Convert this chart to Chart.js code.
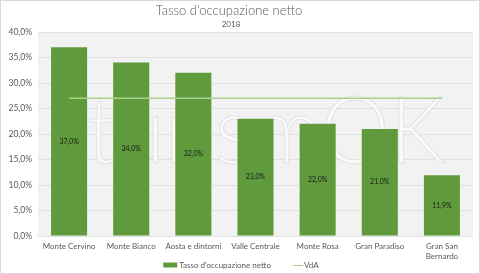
<!DOCTYPE html>
<html>
<head>
<meta charset="utf-8">
<script src="https://cdn.jsdelivr.net/npm/chart.js@4"></script>
<style>
  html,body{margin:0;padding:0;background:#fff}
  #wrap{width:480px;height:274px;position:relative}
</style>
</head>
<body>
<div id="wrap"><canvas id="c"></canvas></div>
<script>
// ----- data -----
const categories = ['Monte Cervino','Monte Bianco','Aosta e dintorni','Valle Centrale','Monte Rosa','Gran Paradiso',['Gran San','Bernardo']];
const tassoNetto = [37.0, 34.0, 32.0, 23.0, 22.0, 21.0, 11.9];
const vdaValues  = [27.0, 27.0, 27.0, 27.0, 27.0, 27.0, 27.0];
const titleText = "Tasso d'occupazione netto";
const subtitleText = '2018';
const yTicks = [0, 5, 10, 15, 20, 25, 30, 35, 40];

const GREEN = '#5f9a3c', LIGHT = '#a9d18e', GREY = '#595959';
const FONT = 'Lato, "Noto Sans", sans-serif';
const pct = v => v.toFixed(1).replace('.', ',') + '%';

// background, border, titles, watermark, value labels, legend
const decor = {
  id: 'decor',
  beforeDraw(chart){
    const {ctx, chartArea:a, width, height} = chart;
    ctx.save();
    ctx.fillStyle = '#f2f2f2';
    ctx.fillRect(a.left, a.top, a.right - a.left, a.bottom - a.top);
    ctx.strokeStyle = '#d9d9d9'; ctx.lineWidth = 1;
    ctx.strokeRect(0.5, 0.5, width - 1, height - 1);
    ctx.fillStyle = GREY; ctx.textAlign = 'center'; ctx.textBaseline = 'middle';
    ctx.font = '300 13px ' + FONT;
    ctx.fillText(titleText, 229, 11);
    ctx.font = '8px ' + FONT;
    ctx.fillText(subtitleText, 231, 24);
    ctx.restore();
  },
  beforeDatasetsDraw(chart){
    const {ctx} = chart;
    ctx.save();
    ctx.font = '300 92px ' + FONT;
    const w = ctx.measureText('turismOK').width;
    ctx.translate(87, 163);
    ctx.scale(358 / w, 1);
    ctx.fillStyle = '#fafafa';
    ctx.strokeStyle = '#e2e2e2'; ctx.lineWidth = 1;
    ctx.textBaseline = 'alphabetic'; ctx.textAlign = 'left';
    ctx.fillText('turismOK', 0, 0);
    ctx.strokeText('turismOK', 0, 0);
    ctx.restore();
  },
  afterDatasetsDraw(chart){
    const {ctx} = chart;
    const meta = chart.getDatasetMeta(0);
    ctx.save();
    ctx.fillStyle = '#1a1a1a'; ctx.font = '7px ' + FONT;
    ctx.textAlign = 'center'; ctx.textBaseline = 'middle';
    meta.data.forEach((bar, i) => {
      ctx.fillText(pct(tassoNetto[i]), bar.x, (bar.y + bar.base) / 2);
    });
    ctx.restore();
  },
  afterDraw(chart){
    // legend, drawn by hand to keep the layout tight
    const {ctx} = chart;
    const ds = chart.data.datasets;
    ctx.save();
    ctx.font = '8px ' + FONT; ctx.textBaseline = 'middle'; ctx.textAlign = 'left';
    const t1 = ctx.measureText(ds[0].label).width, t2 = ctx.measureText(ds[1].label).width;
    const total = 14 + 2 + t1 + 22 + 10 + 1 + t2;
    let x = 241 - total / 2; const y = 265;
    ctx.fillStyle = ds[0].backgroundColor; ctx.fillRect(x, y - 2.5, 14, 5);
    x += 16; ctx.fillStyle = GREY; ctx.fillText(ds[0].label, x, y);
    x += t1 + 22;
    ctx.strokeStyle = ds[1].borderColor; ctx.lineWidth = 1;
    ctx.beginPath(); ctx.moveTo(x, y + 0.5); ctx.lineTo(x + 10, y + 0.5); ctx.stroke();
    x += 11; ctx.fillText(ds[1].label, x, y);
    ctx.restore();
  }
};

new Chart(document.getElementById('c'), {
  data: {
    labels: categories,
    datasets: [
      { type:'bar', label:"Tasso d'occupazione netto", data: tassoNetto, backgroundColor: GREEN,
        barPercentage: 0.58, categoryPercentage: 1, order: 2 },
      { type:'line', label:'VdA', data: vdaValues, borderColor: LIGHT, backgroundColor: LIGHT,
        borderWidth: 1.5, pointRadius: 0, order: 1 }
    ]
  },
  options: {
    responsive: true, maintainAspectRatio: false, animation: false,
    layout: { padding: { left: 4, right: 7, top: 32, bottom: 8 } },
    plugins: {
      title: { display: false },
      tooltip: { enabled: false },
      legend: { display: false }
    },
    scales: {
      x: {
        grid: { display: false, drawTicks: false, tickLength: 0 }, border: { display: false },
        ticks: { color: GREY, font: { family: FONT, size: 8 }, maxRotation: 0, autoSkip: false, padding: 6 },
        afterFit(s){ s.height = 30; }
      },
      y: {
        min: 0, max: 40,
        afterBuildTicks(s){ s.ticks = yTicks.map(v => ({ value: v })); },
        grid: { color: '#e0e0e0', drawTicks: false }, border: { display: false },
        ticks: { color: GREY, font: { family: FONT, size: 8.5 }, padding: 6, callback: v => pct(v) },
        afterFit(s){ s.width = 34; }
      }
    }
  },
  plugins: [decor]
});
</script>
</body>
</html>
